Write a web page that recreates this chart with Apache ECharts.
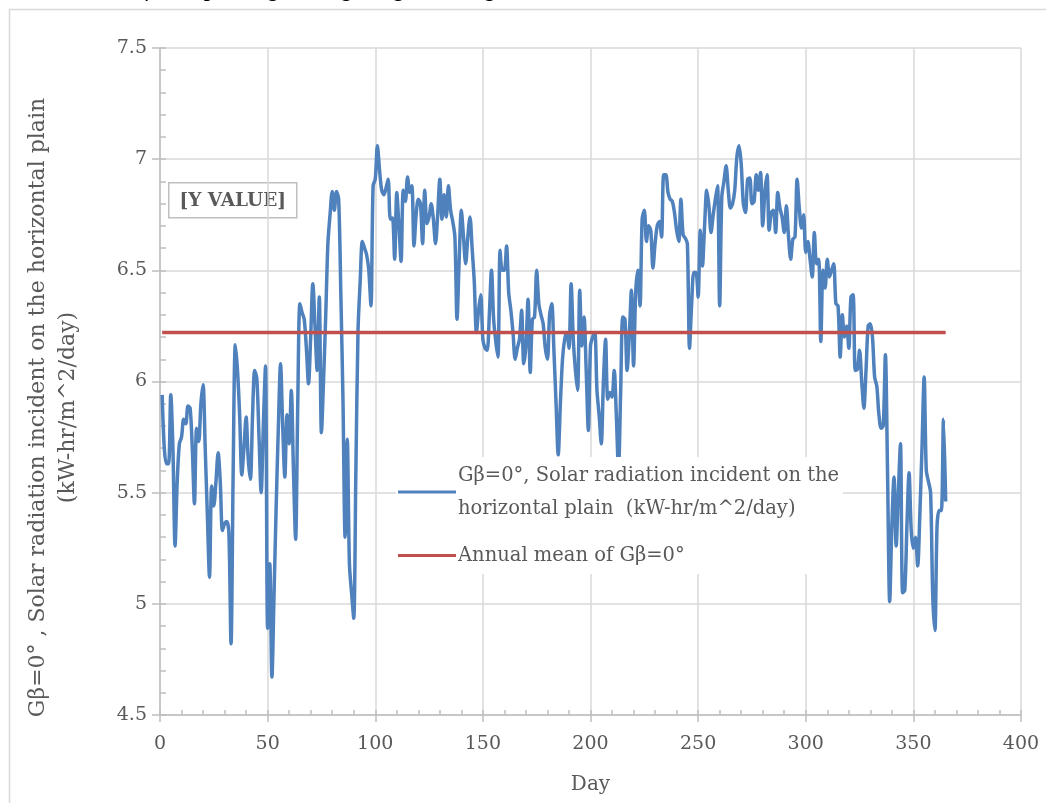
<!DOCTYPE html>
<html>
<head>
<meta charset="utf-8">
<script src="https://cdn.jsdelivr.net/npm/echarts@6/dist/echarts.min.js"></script>
<style>
html,body{margin:0;padding:0;background:#fff;}
#c{width:1046px;height:803px;}
</style>
</head>
<body>
<div id="c"></div>
<script>
// Daily solar radiation on horizontal plane, days 1..365 (kW-hr/m^2/day)
const radiation = [
  5.94,5.70,5.63,5.63,5.94,5.70,5.26,5.55,5.72,5.75,
  5.83,5.81,5.89,5.88,5.70,5.45,5.79,5.73,5.90,5.985,
  5.70,5.40,5.12,5.53,5.44,5.55,5.68,5.55,5.33,5.36,
  5.37,5.32,4.82,5.60,6.165,6.05,5.85,5.58,5.70,5.84,
  5.65,5.56,5.85,6.05,6.01,5.75,5.50,5.80,6.07,4.89,
  5.18,4.67,5.05,5.45,5.80,6.08,5.80,5.57,5.85,5.72,
  5.96,5.60,5.29,5.90,6.35,6.31,6.28,6.15,5.99,6.20,
  6.44,6.25,6.05,6.38,5.77,6.01,6.30,6.62,6.75,6.855,
  6.77,6.855,6.82,6.40,5.92,5.30,5.74,5.18,5.05,4.935,
  5.60,6.23,6.45,6.63,6.60,6.57,6.50,6.34,6.88,6.91,
  7.06,6.95,6.86,6.84,6.87,6.91,6.73,6.735,6.55,6.85,
  6.70,6.54,6.86,6.81,6.92,6.85,6.88,6.61,6.75,6.82,
  6.80,6.62,6.86,6.71,6.74,6.80,6.73,6.62,6.75,6.91,
  6.73,6.84,6.74,6.88,6.77,6.72,6.65,6.28,6.55,6.77,
  6.65,6.53,6.65,6.74,6.60,6.45,6.22,6.32,6.39,6.19,
  6.15,6.14,6.30,6.50,6.28,6.18,6.11,6.59,6.50,6.50,
  6.61,6.40,6.32,6.22,6.10,6.15,6.19,6.32,6.08,6.16,
  6.37,6.04,6.28,6.29,6.50,6.35,6.30,6.26,6.15,6.10,
  6.30,6.35,6.14,5.90,5.67,5.90,6.10,6.19,6.22,6.15,
  6.44,6.19,6.05,5.96,6.41,6.16,6.29,6.05,5.78,6.16,
  6.20,6.22,5.96,5.85,5.72,6.00,6.19,5.92,5.95,5.93,
  6.05,5.85,5.60,5.95,6.29,6.28,6.05,6.20,6.41,6.07,
  6.40,6.50,6.34,6.73,6.77,6.63,6.70,6.68,6.51,6.62,
  6.70,6.72,6.65,6.93,6.93,6.85,6.82,6.81,6.76,6.68,
  6.63,6.82,6.66,6.645,6.62,6.15,6.35,6.49,6.49,6.38,
  6.68,6.52,6.70,6.86,6.79,6.67,6.75,6.82,6.88,6.34,
  6.83,6.90,6.97,6.86,6.78,6.80,6.86,7.01,7.06,6.98,
  6.80,6.76,6.91,6.915,6.80,6.81,6.93,6.86,6.94,6.70,
  6.85,6.93,6.68,6.76,6.77,6.67,6.85,6.78,6.74,6.67,
  6.79,6.65,6.55,6.64,6.65,6.91,6.78,6.69,6.75,6.58,
  6.63,6.55,6.47,6.67,6.53,6.55,6.18,6.50,6.42,6.55,
  6.47,6.50,6.53,6.35,6.34,6.11,6.30,6.20,6.25,6.15,
  6.38,6.39,6.05,6.055,6.14,6.00,5.88,6.05,6.25,6.26,
  6.20,6.02,5.98,5.85,5.79,5.80,6.12,5.59,5.01,5.35,
  5.57,5.26,5.50,5.72,5.05,5.06,5.35,5.59,5.33,5.25,
  5.30,5.17,5.40,5.70,6.02,5.60,5.55,5.50,5.035,4.88,
  5.35,5.42,5.42,5.83,5.46
];
const firstDay = 1;
const annualMean = 6.22;
const meanDays = [1, 365];
const xTicks = [0, 50, 100, 150, 200, 250, 300, 350, 400];
const yTicks = [4.5, 5, 5.5, 6, 6.5, 7, 7.5];
const seriesNames = [
  'G\u03b2=0\u00b0, Solar radiation incident on the\nhorizontal plain  (kW-hr/m^2/day)',
  'Annual mean of G\u03b2=0\u00b0'
];
const yTitle = 'G\u03b2=0\u00b0 , Solar radiation incident on the horizontal plain\n(kW-hr/m^2/day)';
const xTitle = 'Day';
const boxLabel = '[Y VALUE]';

const FONT = '"DejaVu Serif", serif';
const chart = echarts.init(document.getElementById('c'));

const radData = radiation.map((v, i) => [firstDay + i, v]);
const meanData = meanDays.map(d => [d, annualMean]);

chart.setOption({
  animation: false,
  backgroundColor: '#fff',
  textStyle: { fontFamily: FONT },
  grid: { left: 160, top: 48, right: 25, bottom: 88, containLabel: false },
  legend: {
    orient: 'vertical',
    left: 396,
    top: 457,
    padding: [2, 4, 2, 2],
    backgroundColor: '#fff',
    itemWidth: 58,
    itemHeight: 14,
    itemGap: 14,
    data: [
      { name: seriesNames[0], icon: 'path://M0,6 L58,6 L58,9 L0,9 Z' },
      { name: seriesNames[1], icon: 'path://M0,6 L58,6 L58,9 L0,9 Z' }
    ],
    textStyle: { fontFamily: FONT, fontSize: 19.5, color: '#595959', lineHeight: 33, padding: [0, 0, 0, -3] }
  },
  xAxis: [
    {
      type: 'value', min: xTicks[0], max: xTicks[xTicks.length - 1], interval: 50,
      name: xTitle, nameLocation: 'middle', nameGap: 60,
      nameTextStyle: { fontFamily: FONT, fontSize: 20, color: '#595959' },
      axisLine: { show: true, lineStyle: { color: '#bfbfbf', width: 1.5 } },
      axisTick: { show: true, inside: false, length: 7, lineStyle: { color: '#bfbfbf', width: 1.5 } },
      axisLabel: { fontFamily: FONT, fontSize: 19, color: '#595959', margin: 20 },
      splitLine: { show: true, lineStyle: { color: '#d9d9d9', width: 1.5 } }
    },
    {
      type: 'value', min: 0, max: 400, interval: 10, position: 'bottom',
      axisLine: { show: false },
      axisTick: { show: true, inside: true, length: 5, lineStyle: { color: '#bfbfbf', width: 1.5 } },
      axisLabel: { show: false },
      splitLine: { show: false }
    }
  ],
  yAxis: [
    {
      type: 'value', min: yTicks[0], max: yTicks[yTicks.length - 1], interval: 0.5,
      name: yTitle, nameLocation: 'middle', nameGap: 77, nameRotate: 90,
      nameTextStyle: { fontFamily: FONT, fontSize: 22, color: '#595959', lineHeight: 30, align: 'center',
        padding: [0, 52, 0, 0] },
      axisLine: { show: true, lineStyle: { color: '#bfbfbf', width: 1.5 } },
      axisTick: { show: true, inside: false, length: 8, lineStyle: { color: '#bfbfbf', width: 1.5 } },
      axisLabel: { fontFamily: FONT, fontSize: 19, color: '#595959', margin: 13,
        formatter: v => (Number.isInteger(v) ? String(v) : v.toFixed(1)) },
      splitLine: { show: true, lineStyle: { color: '#d9d9d9', width: 1.5 } }
    },
    {
      type: 'value', min: 4.5, max: 7.5, interval: 0.1, position: 'left',
      axisLine: { show: false },
      axisTick: { show: true, inside: true, length: 6, lineStyle: { color: '#bfbfbf', width: 1.5 } },
      axisLabel: { show: false },
      splitLine: { show: false }
    }
  ],
  series: [
    {
      name: seriesNames[0], type: 'line', data: radData,
      xAxisIndex: 0, yAxisIndex: 0,
      symbol: 'none', smooth: 0.3,
      lineStyle: { color: '#4f81bd', width: 3.5 },
      itemStyle: { color: '#4f81bd' },
      z: 3
    },
    {
      name: seriesNames[1], type: 'line', data: meanData,
      xAxisIndex: 0, yAxisIndex: 0,
      symbol: 'none',
      lineStyle: { color: '#c0504d', width: 3.5 },
      itemStyle: { color: '#c0504d' },
      z: 4
    }
  ],
  graphic: [
    {
      type: 'rect', silent: true, z: 0,
      shape: { x: 9.5, y: 9.5, width: 1100, height: 900 },
      style: { fill: 'none', stroke: '#d9d9d9', lineWidth: 1.5 }
    },
    {
      type: 'text', left: 95, top: -19, z: 10,
      style: { text: '\u2026, G\u03b2 ... by using the age algorithm given in \u2026, \u2026',
        font: 'italic 21px ' + FONT, fill: '#000' }
    },
    {
      type: 'group', left: 168, top: 182, z: 10,
      children: [
        { type: 'rect', shape: { x: 0, y: 0, width: 128, height: 35 },
          style: { fill: '#fff', stroke: '#bfbfbf', lineWidth: 1.5 } },
        { type: 'text', x: 64, y: 18,
          style: { text: boxLabel, font: 'bold 18.5px ' + FONT, fill: '#595959', align: 'center', verticalAlign: 'middle' } }
      ]
    }
  ]
});
</script>
</body>
</html>
